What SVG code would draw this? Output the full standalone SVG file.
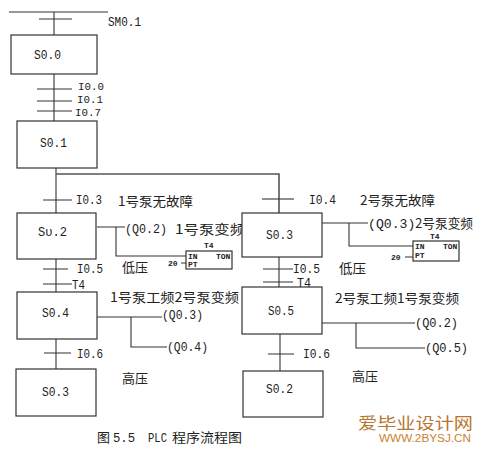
<svg xmlns="http://www.w3.org/2000/svg" width="484" height="455" viewBox="0 0 484 455">
<style>
.box{fill:#fff;stroke:#333;stroke-width:1.2}
.ln{fill:none;stroke:#333;stroke-width:1.1}
.bus{fill:none;stroke:#555;stroke-width:1.6}
.m{font-family:"Liberation Mono","DejaVu Sans Mono",monospace;font-size:13.5px;fill:#222}
.mi{font-family:"Liberation Mono","DejaVu Sans Mono",monospace;font-size:11.5px;fill:#222}
.c{font-family:"Noto Sans CJK SC","Noto Sans",sans-serif;font-size:13px;fill:#222}
.s{font-family:"Liberation Mono","DejaVu Sans Mono",monospace;font-size:8px;font-weight:bold;fill:#222}
.wm{font-family:"Noto Sans CJK SC",serif;font-size:16px;fill:#b8762e}
.wu{font-family:"Liberation Sans",sans-serif;font-size:10px;fill:#c8842e}
</style>
<rect width="484" height="455" fill="#fff"/>
<g id="connectors">
<path class="ln" d="M9 12H108M54 12V35M39 19H72"/>
<path class="ln" d="M54 74V121M37 89H72M37 101H72M37 111H72"/>
<path class="ln" d="M56 168V213M43 200H72"/>
<path class="bus" d="M56 174H279V213"/>
<path class="ln" d="M262 199H294"/>
<path class="ln" d="M56 259V292M43 269H68M43 284H72"/>
<path class="ln" d="M56 339V369M44 353H71"/>
<path class="ln" d="M279 257V287M263 269H293M263 282H293"/>
<path class="ln" d="M280 334V371M268 354H294"/>
<path class="ln" d="M97 227H125M116 227V256H186"/>
<path class="ln" d="M97 317H162M131 317V347H167"/>
<path class="ln" d="M322 223H368M349 223V246H413"/>
<path class="ln" d="M322 323H415M356 323V348H425"/>
<path class="ln" d="M181 263H186M405 257H413"/>
</g>
<g id="sm01"><text class="m" x="108" y="26" textLength="33" lengthAdjust="spacingAndGlyphs">SM0.1</text></g>
<g id="S0_0"><rect class="box" x="11" y="35" width="86" height="39"/><text class="m" x="34" y="59" textLength="27" lengthAdjust="spacingAndGlyphs">S0.0</text></g>
<g id="t_i0"><text class="mi" x="78" y="90" textLength="26" lengthAdjust="spacingAndGlyphs">I0.0</text><text class="mi" x="77" y="103" textLength="26" lengthAdjust="spacingAndGlyphs">I0.1</text><text class="mi" x="75" y="116" textLength="26" lengthAdjust="spacingAndGlyphs">I0.7</text></g>
<g id="S0_1"><rect class="box" x="17" y="121" width="80" height="47"/><text class="m" x="40" y="147" textLength="27" lengthAdjust="spacingAndGlyphs">S0.1</text></g>
<g id="t_i03"><text class="m" x="76" y="204" textLength="26" lengthAdjust="spacingAndGlyphs">I0.3</text><text class="c" x="118" y="206" textLength="75" lengthAdjust="spacingAndGlyphs">1号泵无故障</text></g>
<g id="t_i04"><text class="m" x="309" y="204" textLength="27" lengthAdjust="spacingAndGlyphs">I0.4</text><text class="c" x="360" y="205" textLength="75" lengthAdjust="spacingAndGlyphs">2号泵无故障</text></g>
<g id="S0_2a"><rect class="box" x="17" y="213" width="79" height="46"/><text class="m" x="38" y="236" textLength="29" lengthAdjust="spacingAndGlyphs">Sυ.2</text></g>
<g id="out_s02"><text class="m" x="125" y="233" textLength="42" lengthAdjust="spacingAndGlyphs">(Q0.2)</text><text class="c" x="175" y="234" textLength="70" lengthAdjust="spacingAndGlyphs">1号泵变频</text></g>
<g id="ton1"><text class="s" x="204" y="248">T4</text><rect class="box" x="186" y="251" width="46" height="18" stroke-width="1"/><text class="s" x="188" y="259">IN</text><text class="s" x="216" y="259">TON</text><text class="s" x="188" y="267">PT</text><text class="s" x="168" y="266">20</text></g>
<g id="t_low1"><text class="c" x="122" y="272" textLength="26" lengthAdjust="spacingAndGlyphs">低压</text></g>
<g id="t_i05a"><text class="m" x="77" y="273" textLength="26" lengthAdjust="spacingAndGlyphs">I0.5</text><text class="m" x="72" y="289" textLength="13" lengthAdjust="spacingAndGlyphs">T4</text></g>
<g id="t_s04"><text class="c" x="110" y="302" textLength="129" lengthAdjust="spacingAndGlyphs">1号泵工频2号泵变频</text></g>
<g id="S0_3b"><rect class="box" x="242" y="213" width="80" height="44"/><text class="m" x="266" y="239" textLength="27" lengthAdjust="spacingAndGlyphs">S0.3</text></g>
<g id="out_s03"><text class="c" x="368" y="228" textLength="105" lengthAdjust="spacingAndGlyphs"><tspan class="m">(Q0.3)</tspan>2号泵变频</text></g>
<g id="ton2"><text class="s" x="430" y="239">T4</text><rect class="box" x="413" y="241" width="46" height="20" stroke-width="1"/><text class="s" x="415" y="249">IN</text><text class="s" x="443" y="249">TON</text><text class="s" x="415" y="258">PT</text><text class="s" x="391" y="260">20</text></g>
<g id="t_low2"><text class="c" x="339" y="273" textLength="27" lengthAdjust="spacingAndGlyphs">低压</text></g>
<g id="t_i05b"><text class="m" x="293" y="273" textLength="27" lengthAdjust="spacingAndGlyphs">I0.5</text><text class="m" x="297" y="287" textLength="14" lengthAdjust="spacingAndGlyphs">T4</text></g>
<g id="t_s05"><text class="c" x="335" y="303" textLength="124" lengthAdjust="spacingAndGlyphs">2号泵工频1号泵变频</text></g>
<g id="S0_4"><rect class="box" x="17" y="292" width="80" height="47"/><text class="m" x="42" y="317" textLength="27" lengthAdjust="spacingAndGlyphs">S0.4</text></g>
<g id="out_s04"><text class="m" x="162" y="319" textLength="41" lengthAdjust="spacingAndGlyphs">(Q0.3)</text><text class="m" x="167" y="351" textLength="41" lengthAdjust="spacingAndGlyphs">(Q0.4)</text></g>
<g id="S0_5"><rect class="box" x="242" y="287" width="80" height="47"/><text class="m" x="268" y="315" textLength="26" lengthAdjust="spacingAndGlyphs">S0.5</text></g>
<g id="out_s05"><text class="m" x="415" y="327" textLength="43" lengthAdjust="spacingAndGlyphs">(Q0.2)</text><text class="m" x="425" y="352" textLength="43" lengthAdjust="spacingAndGlyphs">(Q0.5)</text></g>
<g id="t_i06"><text class="m" x="77" y="358" textLength="26" lengthAdjust="spacingAndGlyphs">I0.6</text><text class="m" x="303" y="358" textLength="27" lengthAdjust="spacingAndGlyphs">I0.6</text></g>
<g id="t_high"><text class="c" x="122" y="383" textLength="26" lengthAdjust="spacingAndGlyphs">高压</text><text class="c" x="352" y="381" textLength="26" lengthAdjust="spacingAndGlyphs">高压</text></g>
<g id="S0_3a"><rect class="box" x="16" y="369" width="80" height="47"/><text class="m" x="42" y="396" textLength="27" lengthAdjust="spacingAndGlyphs">S0.3</text></g>
<g id="S0_2b"><rect class="box" x="243" y="371" width="80" height="46"/><text class="m" x="266" y="393" textLength="27" lengthAdjust="spacingAndGlyphs">S0.2</text></g>
<g id="caption"><text class="c" x="97" y="442">图</text><text class="m" x="113" y="442" textLength="22" lengthAdjust="spacingAndGlyphs">5.5</text><text class="m" x="148" y="442" textLength="19" lengthAdjust="spacingAndGlyphs">PLC</text><text class="c" x="172" y="442" textLength="70" lengthAdjust="spacingAndGlyphs">程序流程图</text></g>
<g id="watermark"><text class="wm" x="358" y="429" textLength="115" lengthAdjust="spacingAndGlyphs">爱毕业设计网</text><text class="wu" x="379" y="442" textLength="92" lengthAdjust="spacingAndGlyphs">WWW.2BYSJ.CN</text></g>
</svg>
